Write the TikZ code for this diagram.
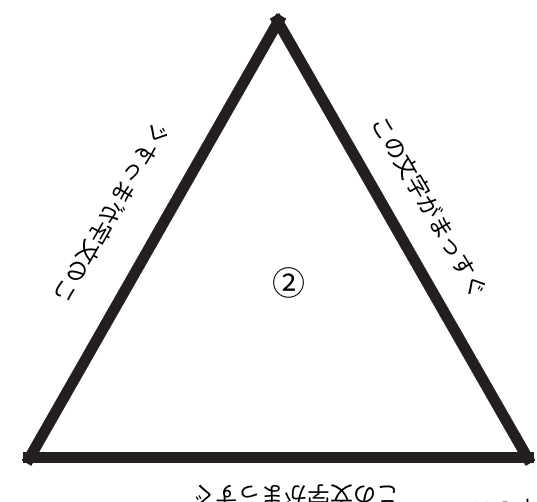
\documentclass[tikz,border=0pt]{standalone}
\usepackage{fontspec}
\newfontfamily\jpfont{Noto Sans CJK JP}
\usetikzlibrary{positioning}
\definecolor{ink}{HTML}{231F20}

\begin{document}
\begin{tikzpicture}[
    x=1pt, y=-1pt,
    side/.style={draw=ink, line width=11pt, shorten <=-7pt, shorten >=-7pt},
    edgetext/.style={inner sep=0pt, font=\jpfont\fontsize{23}{23}\selectfont},
    ]
    \useasboundingbox (0,0) rectangle (537,502);

    % Corners
    \coordinate (apex) at (278,22);
    \coordinate (left) at (30,457);
    \coordinate (right) at (527,457);

    % Sides
    \draw[side] (apex) -- (right);
    \draw[side] (right) -- (left);
    \draw[side] (left) -- (apex);

    % Labels along the sides
    \node[edgetext, rotate=-60] (textr) at (430,207) {この文字がまっすぐ};
    \node[edgetext, rotate=180] (textb) at (296,495) {この文字がまっすぐ};
    \node[edgetext, yscale=-1, rotate=-60] (textl) at (112,213) {この文字がまっすぐ};

    \node[font=\jpfont\fontsize{33}{33}\selectfont] (num) at (289,283) {②};
    \node[edgetext, anchor=north west] (cut) at (470,498.5) {この文字がまっすぐ};
\end{tikzpicture}
\end{document}
